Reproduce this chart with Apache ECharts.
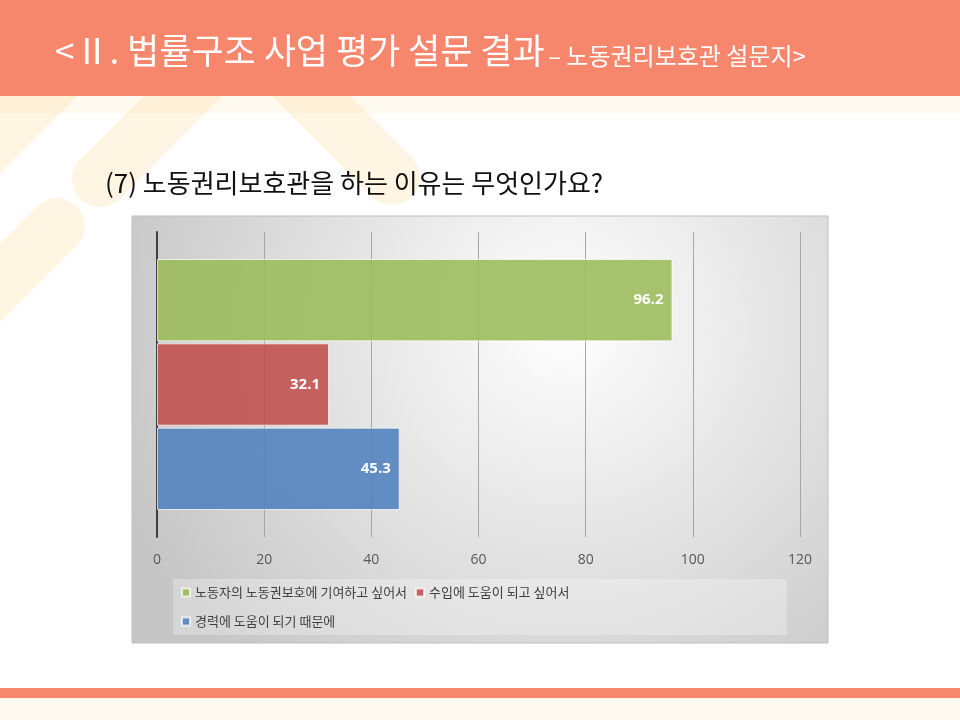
<!DOCTYPE html>
<html>
<head>
<meta charset="utf-8">
<script src="https://cdn.jsdelivr.net/npm/echarts/dist/echarts.min.js"></script>
<style>
html, body { margin: 0; padding: 0; background: #ffffff; }
#chart { width: 960px; height: 720px; }
</style>
</head>
<body>
<div id="chart"></div>
<script>
// 데이터
var categories = [''];
var seriesNames = ['노동자의 노동권보호에 기여하고 싶어서', '수입에 도움이 되고 싶어서', '경력에 도움이 되기 때문에'];
var seriesValues = [96.2, 32.1, 45.3];
var seriesColors = ['rgba(155,187,89,0.88)', 'rgba(192,80,77,0.88)', 'rgba(79,129,189,0.88)'];
var tickMin = 0;
var tickMax = 120;
var tickStep = 20;

var titleMain = '<Ⅱ. 법률구조 사업 평가 설문 결과';
var titleSub = '– 노동권리보호관 설문지>';
var question = '(7) 노동권리보호관을 하는 이유는 무엇인가요?';

var korFont = '"Noto Sans CJK KR", "Noto Sans", sans-serif';
var numFont = '"Open Sans", "Noto Sans", sans-serif';
var strokeColor = 'rgba(255,215,140,0.25)';

// 배경의 대각선 장식
function deco(x1, y1, x2, y2) {
    return {
        type: 'line', z: -20, silent: true,
        shape: {x1: x1, y1: y1, x2: x2, y2: y2},
        style: {stroke: strokeColor, lineWidth: 56, lineCap: 'round'}
    };
}

var dom = document.getElementById('chart');
var myChart = echarts.init(dom);
var option = null;

var series = [];
for (var i = 0; i < seriesNames.length; i++) {
    series.push({
        name: seriesNames[i],
        type: 'bar',
        data: [seriesValues[i]],
        barGap: '2.4%',
        barCategoryGap: '17.7%',
        itemStyle: {
            color: seriesColors[i],
            borderColor: 'rgba(255,255,255,0.7)',
            borderWidth: 1
        },
        label: {
            show: true,
            position: 'insideRight',
            distance: 9,
            color: '#ffffff',
            fontWeight: 'bold',
            fontSize: 15,
            fontFamily: numFont
        }
    });
}

option = {
    animation: false,
    graphic: [
        {type: 'rect', z: -30, silent: true, shape: {x: 0, y: 96, width: 960, height: 17}, style: {fill: '#fffaf0'}},
        deco(-60, 194, 150, -16),
        deco(100, 179, 240, 39),
        deco(57, 226, -120, 403),
        deco(392, 177, 200, -15),
        // 상단 헤더
        {type: 'rect', z: -10, silent: true, shape: {x: 0, y: 0, width: 960, height: 96}, style: {fill: '#f6876d'}},
        {
            type: 'text', z: 5, left: 55, top: 33, silent: true,
            style: {
                text: '{a|' + titleMain + '} {b|' + titleSub + '}',
                fill: '#ffffff',
                rich: {
                    a: {fontSize: 35, fill: '#ffffff', fontFamily: korFont, verticalAlign: 'bottom', lineHeight: 46},
                    b: {fontSize: 24, fill: '#ffffff', fontFamily: korFont, verticalAlign: 'bottom', lineHeight: 41}
                }
            }
        },
        // 질문
        {
            type: 'text', left: 105, top: 170, silent: true,
            style: {text: question, fontSize: 26, fill: '#111111', fontFamily: korFont}
        },
        // 차트 영역
        {
            type: 'rect', z: -8, silent: true,
            shape: {x: 132, y: 216, width: 696, height: 427},
            style: {
                fill: {
                    type: 'radial', x: 0.62, y: 0.25, r: 1.1,
                    colorStops: [{offset: 0, color: '#ffffff'}, {offset: 1, color: '#c6c6c6'}]
                },
                stroke: '#bfbfbf', lineWidth: 1
            }
        },
        {type: 'rect', z: -7, silent: true, shape: {x: 173, y: 579, width: 614, height: 56}, style: {fill: 'rgba(255,255,255,0.28)'}},
        // 하단 바
        {type: 'rect', z: -10, silent: true, shape: {x: 0, y: 688, width: 960, height: 10}, style: {fill: '#f6876d'}},
        {type: 'rect', z: -10, silent: true, shape: {x: 0, y: 698, width: 960, height: 22}, style: {fill: '#fffaf0'}}
    ],
    legend: [
        {
            data: [seriesNames[0], seriesNames[1]],
            left: 176, top: 581,
            icon: 'rect', itemWidth: 8, itemHeight: 8, itemGap: 8,
            textStyle: {fontSize: 13, color: '#404040', fontFamily: korFont}
        },
        {
            data: [seriesNames[2]],
            left: 176, top: 610,
            icon: 'rect', itemWidth: 8, itemHeight: 8, itemGap: 8,
            textStyle: {fontSize: 13, color: '#404040', fontFamily: korFont}
        }
    ],
    grid: {left: 157, right: 160, top: 232, bottom: 183, containLabel: false},
    xAxis: {
        type: 'value',
        min: tickMin, max: tickMax, interval: tickStep,
        axisLine: {show: false},
        axisTick: {show: false},
        axisLabel: {margin: 16, fontSize: 14, color: '#595959', fontFamily: numFont},
        splitLine: {show: true, lineStyle: {color: '#a6a6a6', width: 1}}
    },
    yAxis: {
        type: 'category',
        data: categories,
        axisLine: {show: true, lineStyle: {color: '#404040', width: 2}},
        axisTick: {show: false},
        axisLabel: {show: false}
    },
    series: series
};
myChart.setOption(option);
</script>
</body>
</html>
